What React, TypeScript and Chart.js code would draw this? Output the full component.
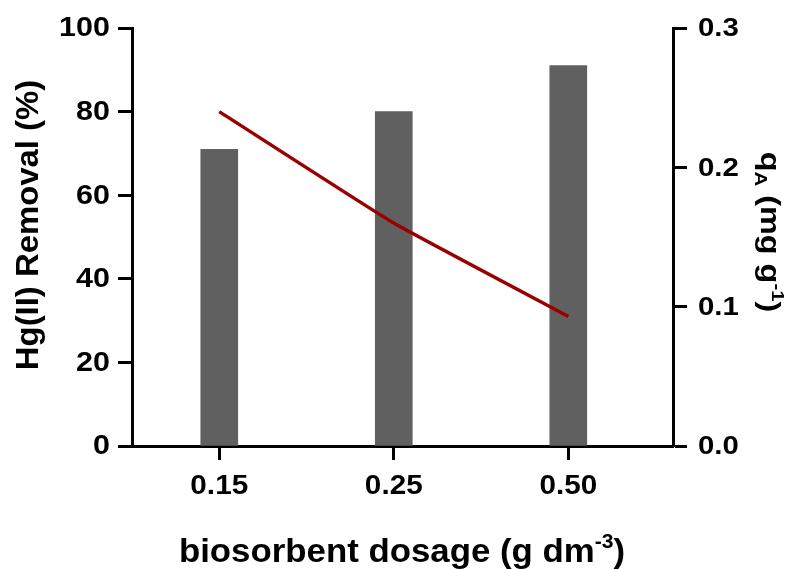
import React, { useEffect, useRef } from "react";
import { Chart, registerables } from "chart.js";

Chart.register(...registerables);

const categories = ["0.15", "0.25", "0.50"];
const removalPercent = [71, 80, 91];
const qA = [0.24, 0.16, 0.093];
const leftTicks = [0, 20, 40, 60, 80, 100];
const rightTicks = [0, 0.1, 0.2, 0.3];
const rightTickLabels = ["0.0", "0.1", "0.2", "0.3"];

const FONT = '"Liberation Sans", Arial, Helvetica, sans-serif';

type Part = { t: string; s?: "sup" | "sub" };

function drawRich(
  ctx: CanvasRenderingContext2D,
  parts: Part[],
  x: number,
  y: number,
  rot: number,
  size: number,
  stretch: number
) {
  ctx.save();
  ctx.translate(x, y);
  ctx.rotate(rot);
  ctx.scale(stretch, 1);
  ctx.fillStyle = "#000";
  ctx.textBaseline = "alphabetic";
  ctx.textAlign = "left";
  const small = Math.round(size * 0.62);
  let w = 0;
  for (const p of parts) {
    ctx.font = `bold ${p.s ? small : size}px ${FONT}`;
    w += ctx.measureText(p.t).width;
  }
  let cx = -w / 2;
  for (const p of parts) {
    ctx.font = `bold ${p.s ? small : size}px ${FONT}`;
    let dy = 0;
    if (p.s === "sup") dy = -size * 0.42;
    if (p.s === "sub") dy = size * 0.22;
    ctx.fillText(p.t, cx, dy);
    cx += ctx.measureText(p.t).width;
  }
  ctx.restore();
}

function drawLabel(
  ctx: CanvasRenderingContext2D,
  text: string,
  x: number,
  y: number,
  align: CanvasTextAlign,
  baseline: CanvasTextBaseline,
  size: number,
  stretch: number
) {
  ctx.save();
  ctx.translate(x, y);
  ctx.scale(stretch, 1);
  ctx.fillStyle = "#000";
  ctx.font = `bold ${size}px ${FONT}`;
  ctx.textAlign = align;
  ctx.textBaseline = baseline;
  ctx.fillText(text, 0, 0);
  ctx.restore();
}

const labelsPlugin = {
  id: "labels",
  afterDraw(chart: any) {
    const ctx = chart.ctx as CanvasRenderingContext2D;
    const xs = chart.scales.x;
    const ys = chart.scales.y;
    const y2 = chart.scales.y2;

    categories.forEach((c, i) => {
      drawLabel(ctx, c, xs.getPixelForValue(i), 494, "center", "alphabetic", 27, 1.1);
    });
    leftTicks.forEach((v) => {
      drawLabel(ctx, String(v), ys.left + ys.width - 22, ys.getPixelForValue(v) + 1, "right", "middle", 27, 1.13);
    });
    rightTicks.forEach((v, i) => {
      drawLabel(ctx, rightTickLabels[i], y2.left + 25, y2.getPixelForValue(v) + 1, "left", "middle", 26, 1.13);
    });

    drawRich(
      ctx,
      [{ t: "biosorbent dosage (g dm" }, { t: "-3", s: "sup" }, { t: ")" }],
      402,
      562,
      0,
      33,
      1.055
    );
    drawRich(ctx, [{ t: "Hg(II) Removal (%)" }], 38, 225, -Math.PI / 2, 31, 1.06);
    drawRich(
      ctx,
      [{ t: "q" }, { t: "A", s: "sub" }, { t: " (mg g" }, { t: "-1", s: "sup" }, { t: ")" }],
      761,
      232,
      Math.PI / 2,
      27,
      1.2
    );
  },
};

export default function App() {
  const ref = useRef<HTMLCanvasElement | null>(null);
  useEffect(() => {
    document.body.style.margin = "0";
    const canvas = ref.current;
    if (!canvas) return;
    const gridCommon = {
      drawOnChartArea: false,
      drawTicks: true,
      tickLength: 14,
      tickWidth: 3,
      tickColor: "#000",
      offset: false,
    };
    const border = { display: true, color: "#000", width: 3 };
    const chart = new Chart(canvas, {
      data: {
        datasets: [
          {
            type: "line",
            data: qA.map((v, i) => ({ x: i, y: v })),
            borderColor: "#990000",
            borderWidth: 3.5,
            pointRadius: 0,
            tension: 0.12,
            yAxisID: "y2",
            xAxisID: "x",
            order: 0,
          },
          {
            type: "bar",
            data: removalPercent.map((v, i) => ({ x: i, y: v })),
            backgroundColor: "#606060",
            barThickness: 37,
            yAxisID: "y",
            xAxisID: "x",
            order: 1,
          },
        ] as any,
      },
      options: {
        animation: false,
        responsive: false,
        maintainAspectRatio: false,
        layout: { padding: { top: 28, left: 0, right: 0, bottom: 0 } },
        plugins: { legend: { display: false }, tooltip: { enabled: false } },
        scales: {
          x: {
            type: "linear",
            position: "bottom",
            min: -0.5,
            max: 2.6,
            offset: false,
            afterBuildTicks: (s: any) => {
              s.ticks = categories.map((_, i) => ({ value: i }));
            },
            afterFit: (s: any) => {
              s.height = 569 - 446;
            },
            ticks: { display: false },
            grid: gridCommon,
            border,
          },
          y: {
            type: "linear",
            position: "left",
            min: 0,
            max: 100,
            afterBuildTicks: (s: any) => {
              s.ticks = leftTicks.map((v) => ({ value: v }));
            },
            afterFit: (s: any) => {
              s.width = 132;
            },
            ticks: { display: false },
            grid: gridCommon,
            border,
          },
          y2: {
            type: "linear",
            position: "right",
            min: 0,
            max: 0.3,
            afterBuildTicks: (s: any) => {
              s.ticks = rightTicks.map((v) => ({ value: v }));
            },
            afterFit: (s: any) => {
              s.width = 800 - 673;
            },
            ticks: { display: false },
            grid: gridCommon,
            border,
          },
        },
      } as any,
      plugins: [labelsPlugin],
    });
    return () => chart.destroy();
  }, []);
  return (
    <div style={{ width: 800, height: 569 }}>
      <canvas ref={ref} width={800} height={569} style={{ display: "block" }} />
    </div>
  );
}
